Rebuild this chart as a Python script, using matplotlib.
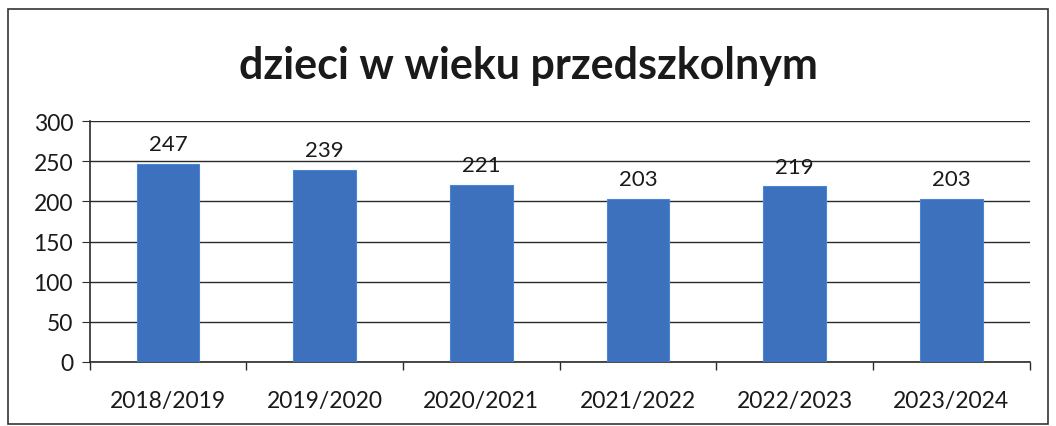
import matplotlib.pyplot as plt
from matplotlib.patches import Rectangle
import numpy as np

# data
years = ["2018/2019", "2019/2020", "2020/2021", "2021/2022", "2022/2023", "2023/2024"]
children = [247, 239, 221, 203, 219, 203]

plt.rcParams['font.family'] = ['Lato', 'DejaVu Sans']

fig = plt.figure(figsize=(10.56, 4.27), dpi=100)
ax = fig.add_axes([0.085, 0.150, 0.890, 0.564])

x = np.arange(len(years))
bars = ax.bar(x, children, width=0.4, color='#3d70bd', edgecolor='#4a86d6', linewidth=0.8, zorder=3)

for xi, v in zip(x, children):
    ax.text(xi, v + 12, str(v), ha='center', va='bottom', fontsize=16, color='#1a1a1a', zorder=4)

ax.set_xlim(-0.5, len(years) - 0.5)
ax.set_ylim(0, 300)
ax.set_yticks(range(0, 301, 50))
ax.yaxis.grid(True, color='#2a2a2a', linewidth=1.0, zorder=0)

ax.set_xticks(x)
ax.set_xticklabels(years, fontsize=16.5, color='#1a1a1a')
ax.set_xticks(np.arange(-0.5, len(years)), minor=True)
ax.tick_params(axis='x', which='major', length=0, pad=20)
ax.tick_params(axis='x', which='minor', length=6, color='#2a2a2a', width=1)
ax.tick_params(axis='y', length=6, color='#2a2a2a', labelsize=16.5, labelcolor='#1a1a1a', pad=6)

for s in ['top', 'right']:
    ax.spines[s].set_visible(False)
for s in ['left', 'bottom']:
    ax.spines[s].set_color('#2a2a2a')
    ax.spines[s].set_linewidth(1.2)

fig.text(0.5, 0.845, "dzieci w wieku przedszkolnym", ha='center', va='center',
         fontsize=31, fontweight='bold', color='#1a1a1a')

# chart border
fig.patches.append(Rectangle((8 / 1056, 2 / 427), 1040 / 1056, 415 / 427, transform=fig.transFigure,
                             fill=False, edgecolor='#333333', linewidth=1.2))

fig.savefig("out.png", dpi=100)
